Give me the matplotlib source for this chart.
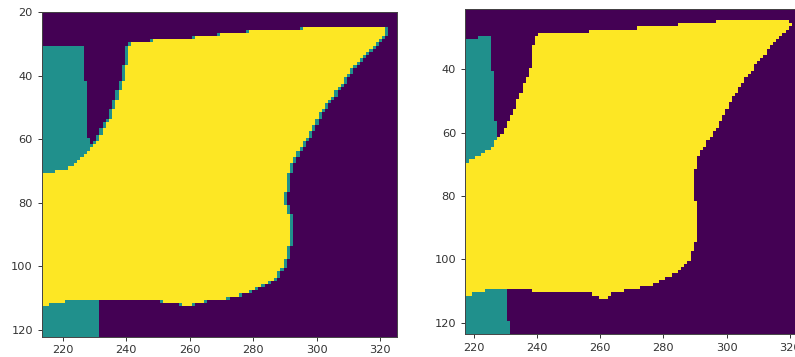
import numpy as np
import matplotlib
matplotlib.use("Agg")
import matplotlib.pyplot as plt
from matplotlib.path import Path

# ==============================================================================
# REGION OUTLINES (data coords: x = column, y = row)
# ==============================================================================
# left panel: prediction
left_fg_x = [213.5, 217.7, 221.4, 224.5, 227.6, 230.8, 232.9, 235.5, 237.6, 239.2, 240.2, 240.7, 241.5,
             248.5, 259.0, 267.4, 279.9, 294.5, 306.0, 320.7, 321.5,
             319.6, 315.4, 311.3, 308.1, 304.0, 299.8, 296.7, 293.0, 291.4, 290.1, 289.8, 290.9, 291.6,
             291.4, 290.1, 288.8, 286.2, 282.0, 277.8, 273.6,
             265.3, 261.1, 259.5, 257.4, 250.6, 231.8, 221.4, 216.2, 213.5]
left_fg_y = [71.0, 70.0, 68.9, 67.3, 64.2, 60.5, 56.8, 52.1, 46.3, 41.1, 35.8, 31.6, 29.3,
             29.0, 28.3, 27.2, 25.9, 25.1, 24.3, 24.1, 26.4,
             29.0, 32.7, 36.9, 42.1, 47.4, 53.7, 60.0, 65.2, 68.4, 74.7, 79.9, 83.1, 87.3,
             92.5, 96.7, 100.9, 104.1, 106.2, 108.3, 109.6,
             110.9, 111.9, 113.0, 111.9, 110.9, 110.4, 110.9, 111.9, 113.0]
left_top_x = [213.0, 226.3, 226.3, 227.5, 227.8, 228.8, 228.8, 213.0]
left_top_y = [30.3, 30.0, 41.5, 41.5, 59.0, 62.0, 75.0, 75.0]
left_bot_x = [213.0, 231.5, 231.5, 213.0]
left_bot_y = [105.0, 105.0, 123.0, 123.0]

# right panel: ground truth
right_fg_x = [217.0, 222.0, 225.2, 227.8, 229.9, 232.0, 234.2, 236.3, 238.4, 238.9, 240.0,
              241.0, 251.5, 264.2, 277.9, 289.4, 303.7, 319.5, 320.5,
              317.9, 313.7, 310.0, 306.3, 302.1, 298.4, 295.2, 292.1, 290.5, 289.4, 289.4, 290.5, 291.0,
              289.7, 287.5, 283.1, 277.9, 270.5,
              264.2, 262.1, 259.4, 257.3, 250.5, 228.4, 224.1, 220.5, 217.0]
right_fg_y = [69.5, 67.6, 65.0, 61.8, 58.7, 54.5, 49.2, 43.9, 38.7, 32.9, 29.7,
              29.0, 28.4, 27.4, 26.6, 25.5, 24.5, 24.7, 26.1,
              28.7, 32.9, 37.6, 42.4, 48.7, 56.1, 61.3, 65.5, 68.7, 73.9, 79.2, 83.4, 89.7,
              96.1, 101.3, 104.7, 107.6, 109.5,
              110.6, 112.2, 112.2, 110.8, 110.6, 109.5, 109.7, 110.8, 111.6]
right_top_x = [217.0, 221.0, 221.5, 225.0, 225.0, 226.0, 226.0, 227.3, 227.3, 228.5, 217.0]
right_top_y = [30.8, 30.8, 29.5, 29.5, 40.3, 40.3, 56.0, 56.0, 60.0, 75.0, 75.0]
right_bot_x = [217.0, 230.3, 230.3, 231.0, 231.0, 217.0]
right_bot_y = [105.0, 105.0, 119.5, 119.5, 124.0, 124.0]

# pixel grids and view limits
left_cols, left_rows = (213, 325), (19, 123)
right_cols, right_rows = (217, 330), (20, 124)
left_xlim, left_ylim = (213.4, 325.2), (122.2, 19.9)
right_xlim, right_ylim = (217.3, 328.4), (123.6, 21.0)


def make_mask(cols, rows, teal_polys, fg_poly, fringe=False):
    xs = np.arange(cols[0], cols[1] + 1)
    ys = np.arange(rows[0], rows[1] + 1)
    gx, gy = np.meshgrid(xs, ys)
    pts = np.column_stack([gx.ravel(), gy.ravel()])
    mask = np.zeros(gx.shape, dtype=int)
    for px, py in teal_polys:
        inside = Path(np.column_stack([px, py])).contains_points(pts).reshape(gx.shape)
        mask[inside] = 1
    inside = Path(np.column_stack(fg_poly)).contains_points(pts).reshape(gx.shape)
    mask[inside] = 2
    if fringe:
        # upsampled prediction leaves class-1 pixels where 2 meets 0 sideways
        fg = mask == 2
        nb = np.zeros_like(fg)
        nb[:, 1:] |= fg[:, :-1]
        nb[:, :-1] |= fg[:, 1:]
        mask[(mask == 0) & nb] = 1
    extent = [cols[0] - 0.5, cols[1] + 0.5, rows[1] + 0.5, rows[0] - 0.5]
    return mask, extent


left_mask, left_ext = make_mask(left_cols, left_rows,
                                [(left_top_x, left_top_y), (left_bot_x, left_bot_y)],
                                (left_fg_x, left_fg_y), fringe=True)
right_mask, right_ext = make_mask(right_cols, right_rows,
                                  [(right_top_x, right_top_y), (right_bot_x, right_bot_y)],
                                  (right_fg_x, right_fg_y))

# ==============================================================================
# PLOTTING
# ==============================================================================
plt.rcParams['font.family'] = 'DejaVu Sans'
plt.rcParams['font.size'] = 8.2
plt.rcParams['axes.linewidth'] = 0.7
for k in ('xtick', 'ytick'):
    plt.rcParams[k + '.major.size'] = 2.8
    plt.rcParams[k + '.major.width'] = 0.7
    plt.rcParams[k + '.color'] = '#333333'

fig = plt.figure(figsize=(7.95, 3.57), dpi=100)
W, H = 795, 357
ax1 = fig.add_axes([41.7 / W, (H - 336.7) / H, (396.7 - 41.7) / W, (336.7 - 12) / H])
ax2 = fig.add_axes([465 / W, (H - 334) / H, (328.4 - 217.3) * 3.165 / W, (334 - 9) / H])

for ax, m, ext, xl, yl in [(ax1, left_mask, left_ext, left_xlim, left_ylim),
                           (ax2, right_mask, right_ext, right_xlim, right_ylim)]:
    ax.imshow(m, cmap='viridis', vmin=0, vmax=2, extent=ext, aspect='auto',
              interpolation='nearest')
    ax.set_xlim(*xl)
    ax.set_ylim(*yl)
    ax.set_xticks([220, 240, 260, 280, 300, 320])
    for s in ax.spines.values():
        s.set_color('#444444')

ax1.set_yticks([20, 40, 60, 80, 100, 120])
ax2.set_yticks([40, 60, 80, 100, 120])

fig.savefig('out.png', dpi=100)
